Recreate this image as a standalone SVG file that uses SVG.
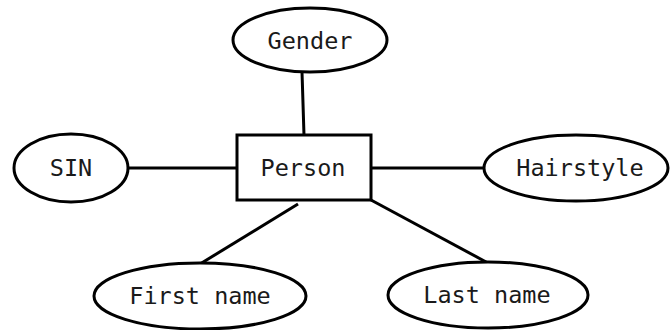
<svg xmlns="http://www.w3.org/2000/svg" width="670" height="330" viewBox="0 0 670 330">
  <style>
    .shape { fill: #ffffff; stroke: #000000; stroke-width: 3; }
    .edge { stroke: #000000; stroke-width: 3; fill: none; }
    .label { font-family: "DejaVu Sans Mono", monospace; font-size: 23.5px; fill: #1a1a1a; text-anchor: middle; }
  </style>
  <rect width="670" height="330" fill="#ffffff"/>
  <g id="connectors">
    <line class="edge" x1="302" y1="72" x2="304" y2="135"/>
    <line class="edge" x1="128" y1="168" x2="237" y2="168"/>
    <line class="edge" x1="371" y1="168" x2="484" y2="168"/>
    <line class="edge" x1="298" y1="204" x2="200" y2="264"/>
    <line class="edge" x1="371" y1="200" x2="488" y2="263"/>
  </g>
  <g id="person">
    <rect class="shape" x="237" y="135" width="134" height="65"/>
    <text class="label" x="303" y="176">Person</text>
  </g>
  <g id="gender">
    <ellipse class="shape" cx="310" cy="40" rx="77" ry="32"/>
    <text class="label" x="310" y="49">Gender</text>
  </g>
  <g id="sin">
    <ellipse class="shape" cx="71" cy="168" rx="57" ry="34"/>
    <text class="label" x="71" y="176">SIN</text>
  </g>
  <g id="hairstyle">
    <ellipse class="shape" cx="576" cy="168" rx="92" ry="33"/>
    <text class="label" x="580" y="176">Hairstyle</text>
  </g>
  <g id="first-name">
    <ellipse class="shape" cx="200" cy="296" rx="106" ry="33"/>
    <text class="label" x="200" y="304">First name</text>
  </g>
  <g id="last-name">
    <ellipse class="shape" cx="488" cy="295" rx="100" ry="33"/>
    <text class="label" x="487" y="303">Last name</text>
  </g>
</svg>
